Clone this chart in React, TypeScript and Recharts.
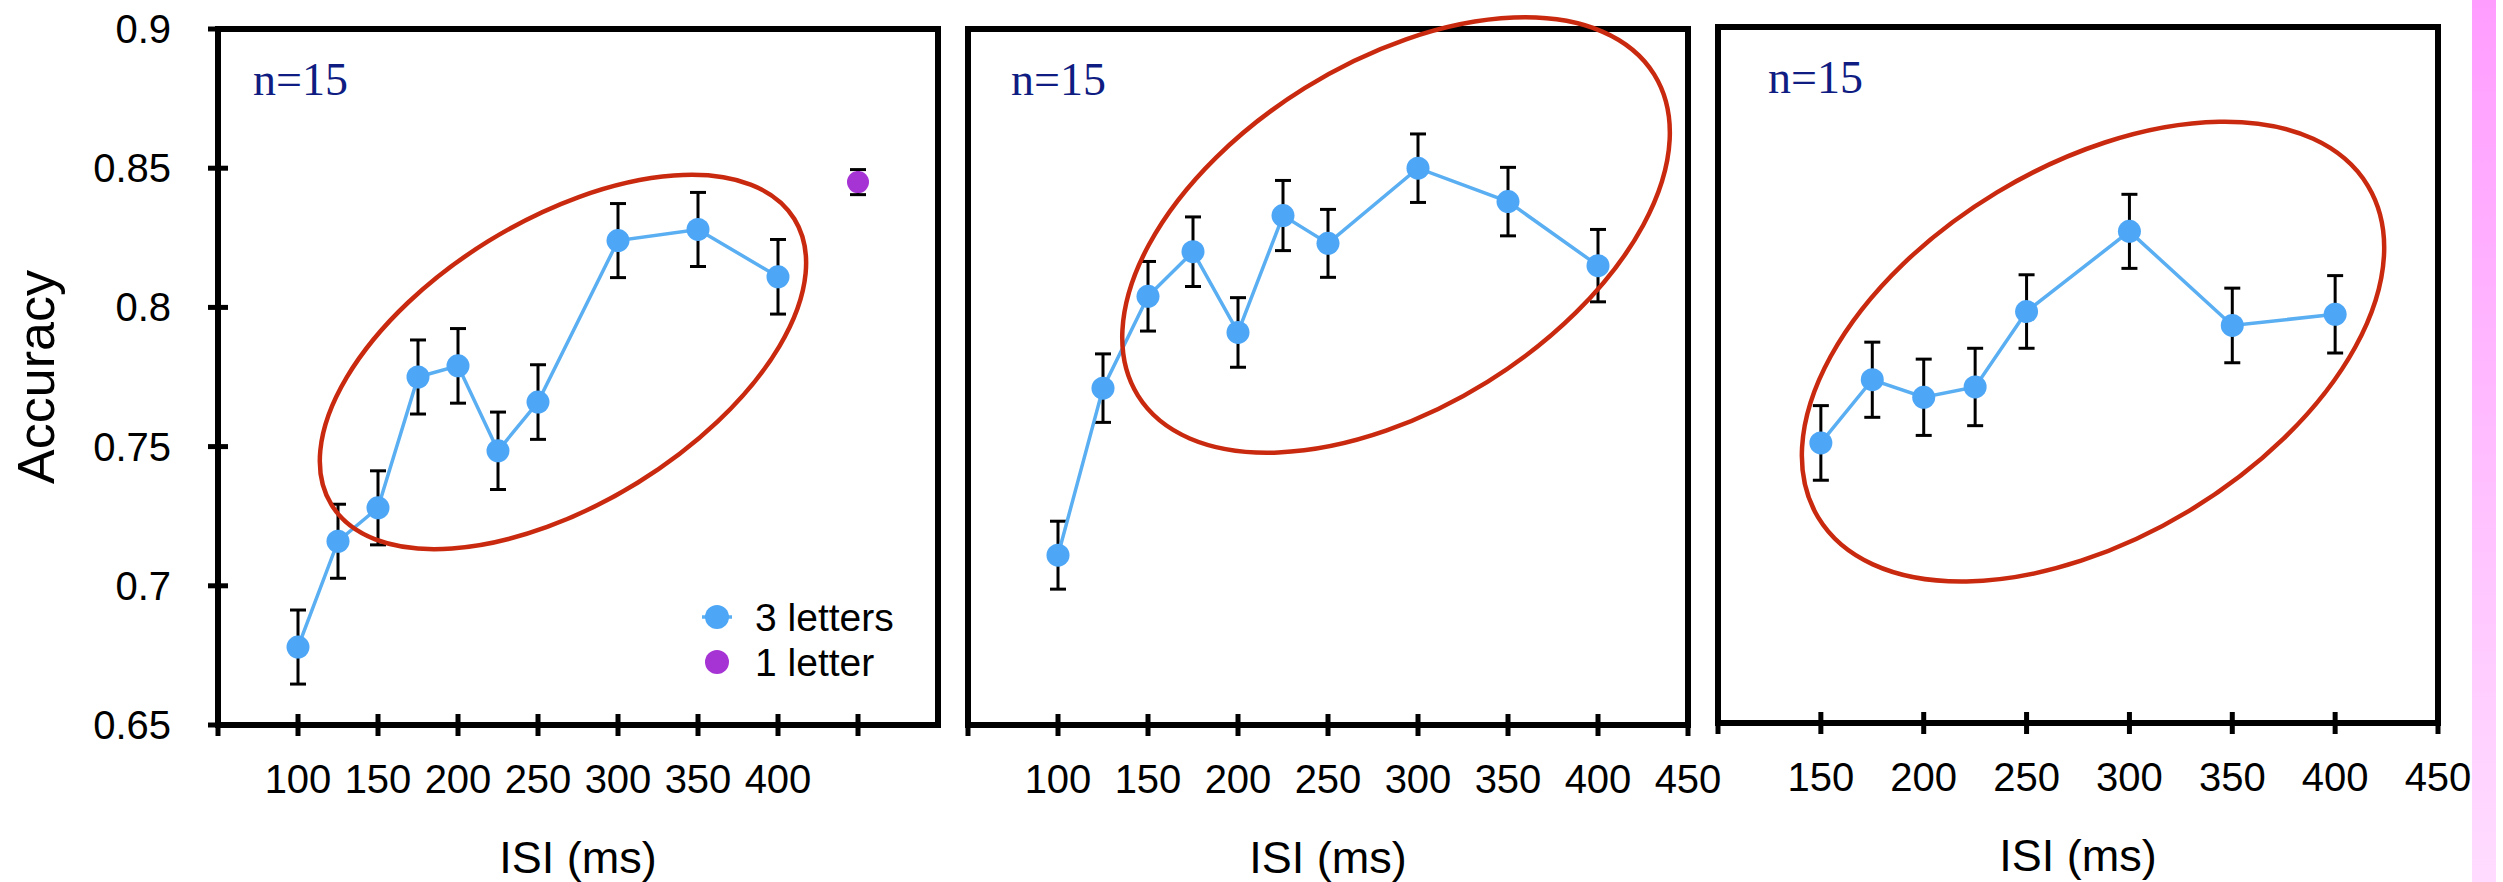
import React from "react";
import {
  LineChart,
  Line,
  XAxis,
  YAxis,
  ErrorBar,
  ReferenceArea,
  ReferenceDot,
  Legend,
  Label,
} from "recharts";

// ---- data ----
const isiA = [100, 125, 150, 175, 200, 225, 250, 300, 350, 400];
const accA = [0.678, 0.716, 0.728, 0.775, 0.779, 0.7485, 0.766, 0.824, 0.828, 0.811];
const errA = [0.0133, 0.0133, 0.0133, 0.0133, 0.0134, 0.0139, 0.0134, 0.0133, 0.0133, 0.0134];

const isiOne = [450];
const accOne = [0.845];
const errOne = [0.0045];

const isiB = [100, 125, 150, 175, 200, 225, 250, 300, 350, 400];
const accB = [0.711, 0.771, 0.804, 0.82, 0.791, 0.833, 0.823, 0.85, 0.838, 0.815];
const errB = [0.0122, 0.0123, 0.0125, 0.0125, 0.0125, 0.0126, 0.0122, 0.0123, 0.0123, 0.013];

const isiC = [150, 175, 200, 225, 250, 300, 350, 400];
const accC = [0.7506, 0.7733, 0.767, 0.7707, 0.7978, 0.8266, 0.7928, 0.7968];
const errC = [0.0134, 0.0135, 0.0137, 0.0139, 0.0132, 0.0133, 0.0134, 0.0139];

const yTicks = [0.65, 0.7, 0.75, 0.8, 0.85, 0.9];
const ticksA = [50, 100, 150, 200, 250, 300, 350, 400, 450];
const labelsA = [100, 150, 200, 250, 300, 350, 400];
const ticksB = [50, 100, 150, 200, 250, 300, 350, 400, 450];
const labelsB = [100, 150, 200, 250, 300, 350, 400, 450];
const ticksC = [100, 150, 200, 250, 300, 350, 400, 450];
const labelsC = [150, 200, 250, 300, 350, 400, 450];

// highlighted regions (centre in data units, radii in px, tilt in degrees)
const ellipseA = { x: 265.6, y: 0.7804, rx: 272, ry: 142, tilt: 31.7 };
const ellipseB = { x: 287.8, y: 0.826, rx: 304, ry: 173, tilt: 31.9 };
const ellipseC = { x: 282.3, y: 0.7834, rx: 321, ry: 186, tilt: 31.1 };

const rows = (xs: number[], ys: number[], es: number[]) =>
  xs.map((isi, i) => ({ isi, acc: ys[i], err: es[i] }));

const FONT = '"Liberation Sans", Arial, Helvetica, sans-serif';
const SERIF = '"Liberation Serif", "Times New Roman", serif';
const BLUE_LINE = "#5aaef2";
const BLUE_DOT = "#4ea7f6";
const PURPLE = "#a633d4";
const RED = "#c92a0f";
const NAVY = "#0f1c82";

const makeXTick = (labels: number[]) => (props: any) => {
  const { x, y, payload } = props;
  const axisY = y - 54;
  return (
    <g>
      <line x1={x} x2={x} y1={axisY - 11} y2={axisY + 11} stroke="#000" strokeWidth={5} />
      {labels.includes(payload.value) && (
        <text x={x} y={y} dy="0.35em" textAnchor="middle" fontSize={40} fontFamily={FONT} fill="#000">
          {payload.value}
        </text>
      )}
    </g>
  );
};

const yTick = (props: any) => {
  const { x, y, payload } = props;
  const axisX = x + 47;
  return (
    <g>
      <line x1={axisX - 10} x2={axisX + 10} y1={y} y2={y} stroke="#000" strokeWidth={5} />
      <text x={x} y={y} dy="0.35em" textAnchor="end" fontSize={40} fontFamily={FONT} fill="#000">
        {payload.value}
      </text>
    </g>
  );
};

const ellipseShape = (e: { rx: number; ry: number; tilt: number }) => (props: any) => {
  const { cx, cy } = props;
  return (
    <ellipse
      cx={cx}
      cy={cy}
      rx={e.rx}
      ry={e.ry}
      transform={`rotate(${-e.tilt} ${cx} ${cy})`}
      fill="none"
      stroke={RED}
      strokeWidth={4.5}
    />
  );
};

const nLabel = (dx: number) => (props: any) => {
  const vb = props.viewBox;
  return (
    <text x={vb.x + dx} y={vb.y + 66} fontSize={46} fontFamily={SERIF} fill={NAVY}>
      n=15
    </text>
  );
};

const isiLabel = (props: any) => {
  const vb = props.viewBox;
  return (
    <text x={vb.x + vb.width / 2} y={vb.y + 148} textAnchor="middle" fontSize={45} fontFamily={FONT} fill="#000">
      ISI (ms)
    </text>
  );
};

const accLabel = (props: any) => {
  const vb = props.viewBox;
  const cy = vb.y + vb.height / 2;
  return (
    <text x={54} y={cy} transform={`rotate(-90 54 ${cy})`} textAnchor="middle" fontSize={52} fontFamily={FONT} fill="#000">
      Accuracy
    </text>
  );
};

const legendOrder = ["3 letters", "1 letter"];

const legendContent = (props: any) => {
  const items: any[] = props.payload ?? [];
  return (
    <svg width={220} height={100} style={{ display: "block", overflow: "visible" }}>
      {legendOrder.map((name, i) => {
        const it = items.find((p) => p.value === name);
        const color = it?.color ?? (i === 0 ? BLUE_DOT : PURPLE);
        const cy = 27 + i * 45;
        return (
          <g key={name}>
            {i === 0 && <line x1={7} x2={37} y1={cy} y2={cy} stroke={BLUE_LINE} strokeWidth={3.5} />}
            <circle cx={22} cy={cy} r={12} fill={i === 0 ? BLUE_DOT : color} />
            <text x={60} y={cy + 14} fontSize={39} fontFamily={FONT} fill="#000">
              {name}
            </text>
          </g>
        );
      })}
    </svg>
  );
};

interface PanelProps {
  left: number;
  width: number;
  margin: { top: number; right: number; bottom: number; left: number };
  domain: [number, number];
  ticks: number[];
  labels: number[];
  data: { isi: number; acc: number; err: number }[];
  ellipse: { x: number; y: number; rx: number; ry: number; tilt: number };
  nDx: number;
  first?: boolean;
}

function Panel({ left, width, margin, domain, ticks, labels, data, ellipse, nDx, first }: PanelProps) {
  return (
    <div style={{ position: "absolute", left, top: 0 }}>
      <LineChart width={width} height={882} margin={margin}>
        <XAxis
          dataKey="isi"
          type="number"
          domain={domain}
          ticks={ticks}
          interval={0}
          allowDataOverflow
          axisLine={false}
          tickLine={false}
          tickSize={0}
          tickMargin={54}
          height={60}
          tick={makeXTick(labels)}
        >
          <Label content={isiLabel} />
        </XAxis>
        {first ? (
          <YAxis
            type="number"
            domain={[0.65, 0.9]}
            ticks={yTicks}
            interval={0}
            allowDataOverflow
            axisLine={false}
            tickLine={false}
            tickSize={0}
            tickMargin={47}
            width={218}
            tick={yTick}
          >
            <Label content={accLabel} />
          </YAxis>
        ) : (
          <YAxis type="number" domain={[0.65, 0.9]} allowDataOverflow hide />
        )}
        <ReferenceArea
          x1={domain[0]}
          x2={domain[1]}
          y1={0.65}
          y2={0.9}
          fill="none"
          fillOpacity={0}
          stroke="#000"
          strokeWidth={6}
          ifOverflow="visible"
        >
          <Label content={nLabel(nDx)} />
        </ReferenceArea>
        <ReferenceDot
          x={ellipse.x}
          y={ellipse.y}
          ifOverflow="visible"
          shape={ellipseShape(ellipse)}
        />
        <Line
          data={data}
          dataKey="acc"
          name="3 letters"
          stroke={BLUE_LINE}
          strokeWidth={3.5}
          dot={{ r: 11.5, fill: BLUE_DOT, stroke: BLUE_DOT, strokeWidth: 0 }}
          activeDot={false}
          isAnimationActive={false}
        >
          <ErrorBar dataKey="err" direction="y" width={8} stroke="#000" strokeWidth={3} />
        </Line>
        {first && (
          <Line
            data={rows(isiOne, accOne, errOne)}
            dataKey="acc"
            name="1 letter"
            stroke={PURPLE}
            strokeWidth={3}
            dot={{ r: 11, fill: PURPLE, stroke: PURPLE, strokeWidth: 0 }}
            activeDot={false}
            isAnimationActive={false}
          >
            <ErrorBar dataKey="err" direction="y" width={8} stroke="#000" strokeWidth={3} />
          </Line>
        )}
        {first && (
          <Legend
            verticalAlign="middle"
            align="center"
            content={legendContent}
            wrapperStyle={{ left: 695, top: 590, width: 220, height: 100 }}
          />
        )}
      </LineChart>
    </div>
  );
}

export default function App() {
  return (
    <div
      style={{
        position: "absolute",
        left: 0,
        top: 0,
        width: 2503,
        height: 882,
        background: "#fff",
        overflow: "hidden",
        fontFamily: FONT,
      }}
    >
      <Panel
        left={0}
        width={960}
        margin={{ top: 29, right: 22, bottom: 97, left: 0 }}
        domain={[50, 500]}
        ticks={ticksA}
        labels={labelsA}
        data={rows(isiA, accA, errA)}
        ellipse={ellipseA}
        nDx={35}
        first
      />
      <Panel
        left={940}
        width={800}
        margin={{ top: 29, right: 52, bottom: 97, left: 28 }}
        domain={[50, 450]}
        ticks={ticksB}
        labels={labelsB}
        data={rows(isiB, accB, errB)}
        ellipse={ellipseB}
        nDx={43}
      />
      <Panel
        left={1700}
        width={800}
        margin={{ top: 27, right: 62, bottom: 99, left: 18 }}
        domain={[100, 450]}
        ticks={ticksC}
        labels={labelsC}
        data={rows(isiC, accC, errC)}
        ellipse={ellipseC}
        nDx={50}
      />
      <div
        style={{
          position: "absolute",
          left: 2472,
          top: 0,
          width: 24,
          height: 882,
          background: "linear-gradient(to bottom, #ff9dff, #ffdcff)",
        }}
      />
    </div>
  );
}
